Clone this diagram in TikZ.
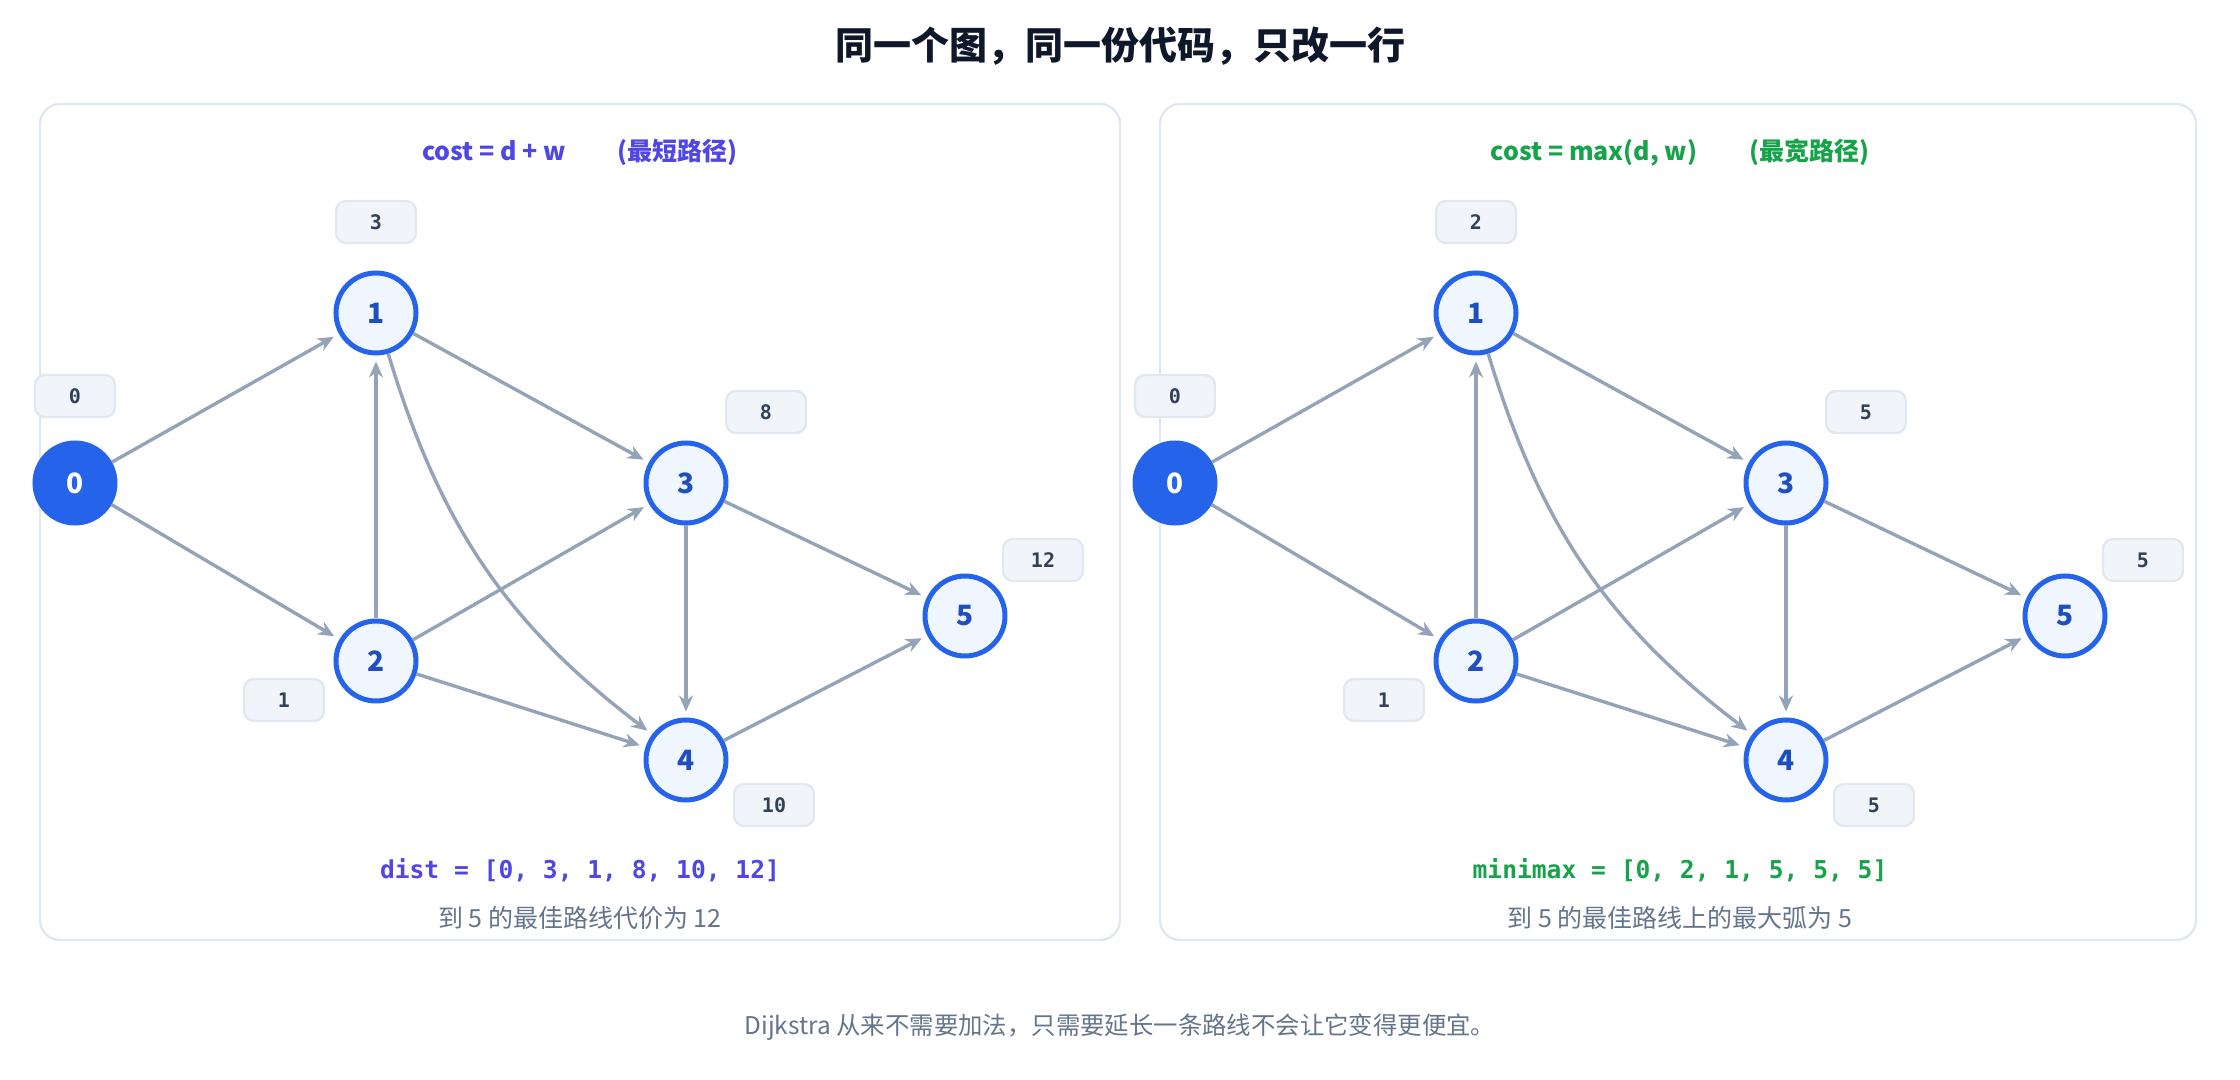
\documentclass[tikz,border=0pt]{standalone}
\usepackage{fontspec}
\setmainfont{Noto Sans CJK SC}
\setmonofont{DejaVu Sans Mono}
\usetikzlibrary{arrows.meta, positioning}
\definecolor{nodeblue}{HTML}{2563EB}
\definecolor{nodefill}{HTML}{EFF6FF}
\definecolor{edgegray}{HTML}{94A3B8}
\definecolor{boxfill}{HTML}{F1F5F9}
\definecolor{boxline}{HTML}{E2E8F0}
\definecolor{indigo}{HTML}{4F46E5}
\definecolor{greenish}{HTML}{16A34A}
\definecolor{textgray}{HTML}{64748B}
\definecolor{darktext}{HTML}{0F172A}
\definecolor{labeltext}{HTML}{334155}
\tikzset{%
	every vertex/.style={
		circle,
		draw=nodeblue,
		line width=2.5pt,
		fill=nodefill,
		minimum size=40pt,
		inner sep=0pt,
		font=\fontsize{14}{16}\selectfont\bfseries,
		text=nodeblue!80!black
	},
	source vertex/.style={
		every vertex,
		fill=nodeblue,
		text=white
	},
	value box/.style={
		rectangle,
		rounded corners=5pt,
		draw=boxline,
		line width=1.2pt,
		fill=boxfill,
		minimum width=40pt,
		minimum height=21pt,
		inner sep=2pt,
		font=\ttfamily\fontsize{10}{12}\selectfont\bfseries,
		text=labeltext
	},
	panel/.style={
		draw=boxline,
		line width=1.2pt,
		rounded corners=10pt
	},
	edge/.style={
		draw=edgegray,
		line width=1.7pt,
		-{Stealth[length=8pt,width=7pt]},
		shorten >=3pt
	},
}

\begin{document}
\begin{tikzpicture}[x=0.5pt, y=-0.5pt]
	\useasboundingbox (0,0) rectangle (2240,1080);

	% Title
	\node[font=\fontsize{19}{22}\selectfont\bfseries, text=darktext] (title) at (1120,46) {同一个图，同一份代码，只改一行};

	% Panel frames
	\draw[panel] (40,104) rectangle (1120,940);
	\draw[panel] (1160,104) rectangle (2196,940);

	% Both graphs: same layout, shifted
	\foreach \p/\dx in {a/0, b/1100} {
		\node[source vertex] (\p0) at (75+\dx,483) {0};
		\node[every vertex] (\p1) at (376+\dx,313) {1};
		\node[every vertex] (\p2) at (376+\dx,661) {2};
		\node[every vertex] (\p3) at (686+\dx,483) {3};
		\node[every vertex] (\p4) at (686+\dx,760) {4};
		\node[every vertex] (\p5) at (965+\dx,616) {5};

		\draw[edge] (\p0) -- (\p1);
		\draw[edge] (\p0) -- (\p2);
		\draw[edge] (\p2) -- (\p1);
		\draw[edge] (\p1) -- (\p3);
		\draw[edge] (\p1) to[bend right=18] (\p4);
		\draw[edge] (\p2) -- (\p3);
		\draw[edge] (\p2) -- (\p4);
		\draw[edge] (\p3) -- (\p4);
		\draw[edge] (\p3) -- (\p5);
		\draw[edge] (\p4) -- (\p5);
	}

	% Left: shortest path values
	\node[value box] (da0) at (75,396) {0};
	\node[value box] (da1) at (376,222) {3};
	\node[value box] (da2) at (284,700) {1};
	\node[value box] (da3) at (766,412) {8};
	\node[value box] (da4) at (774,805) {10};
	\node[value box] (da5) at (1043,560) {12};

	% Right: widest path values
	\node[value box] (db0) at (1175,396) {0};
	\node[value box] (db1) at (1476,222) {2};
	\node[value box] (db2) at (1384,700) {1};
	\node[value box] (db3) at (1866,412) {5};
	\node[value box] (db4) at (1874,805) {5};
	\node[value box] (db5) at (2143,560) {5};

	% Panel headers
	\node[font=\fontsize{12.5}{15}\selectfont\bfseries, text=indigo] (heada) at (580,152) {cost = d + w\hspace{26pt}(最短路径)};
	\node[font=\fontsize{12.5}{15}\selectfont\bfseries, text=greenish] (headb) at (1680,152) {cost = max(d, w)\hspace{26pt}(最宽路径)};

	% Results
	\node[font=\ttfamily\fontsize{12.3}{14}\selectfont\bfseries, text=indigo] (resa) at (580,870) {dist = [0, 3, 1, 8, 10, 12]};
	\node[font=\fontsize{12.5}{14}\selectfont, text=textgray] (capa) at (580,918) {到 5 的最佳路线代价为 12};
	\node[font=\ttfamily\fontsize{12.3}{14}\selectfont\bfseries, text=greenish] (resb) at (1680,870) {minimax = [0, 2, 1, 5, 5, 5]};
	\node[font=\fontsize{12.5}{14}\selectfont, text=textgray] (capb) at (1680,918) {到 5 的最佳路线上的最大弧为 5};

	% Footer
	\node[font=\fontsize{12.2}{14}\selectfont, text=textgray] (foot) at (1120,1027) {Dijkstra 从来不需要加法，只需要延长一条路线不会让它变得更便宜。};
\end{tikzpicture}
\end{document}
